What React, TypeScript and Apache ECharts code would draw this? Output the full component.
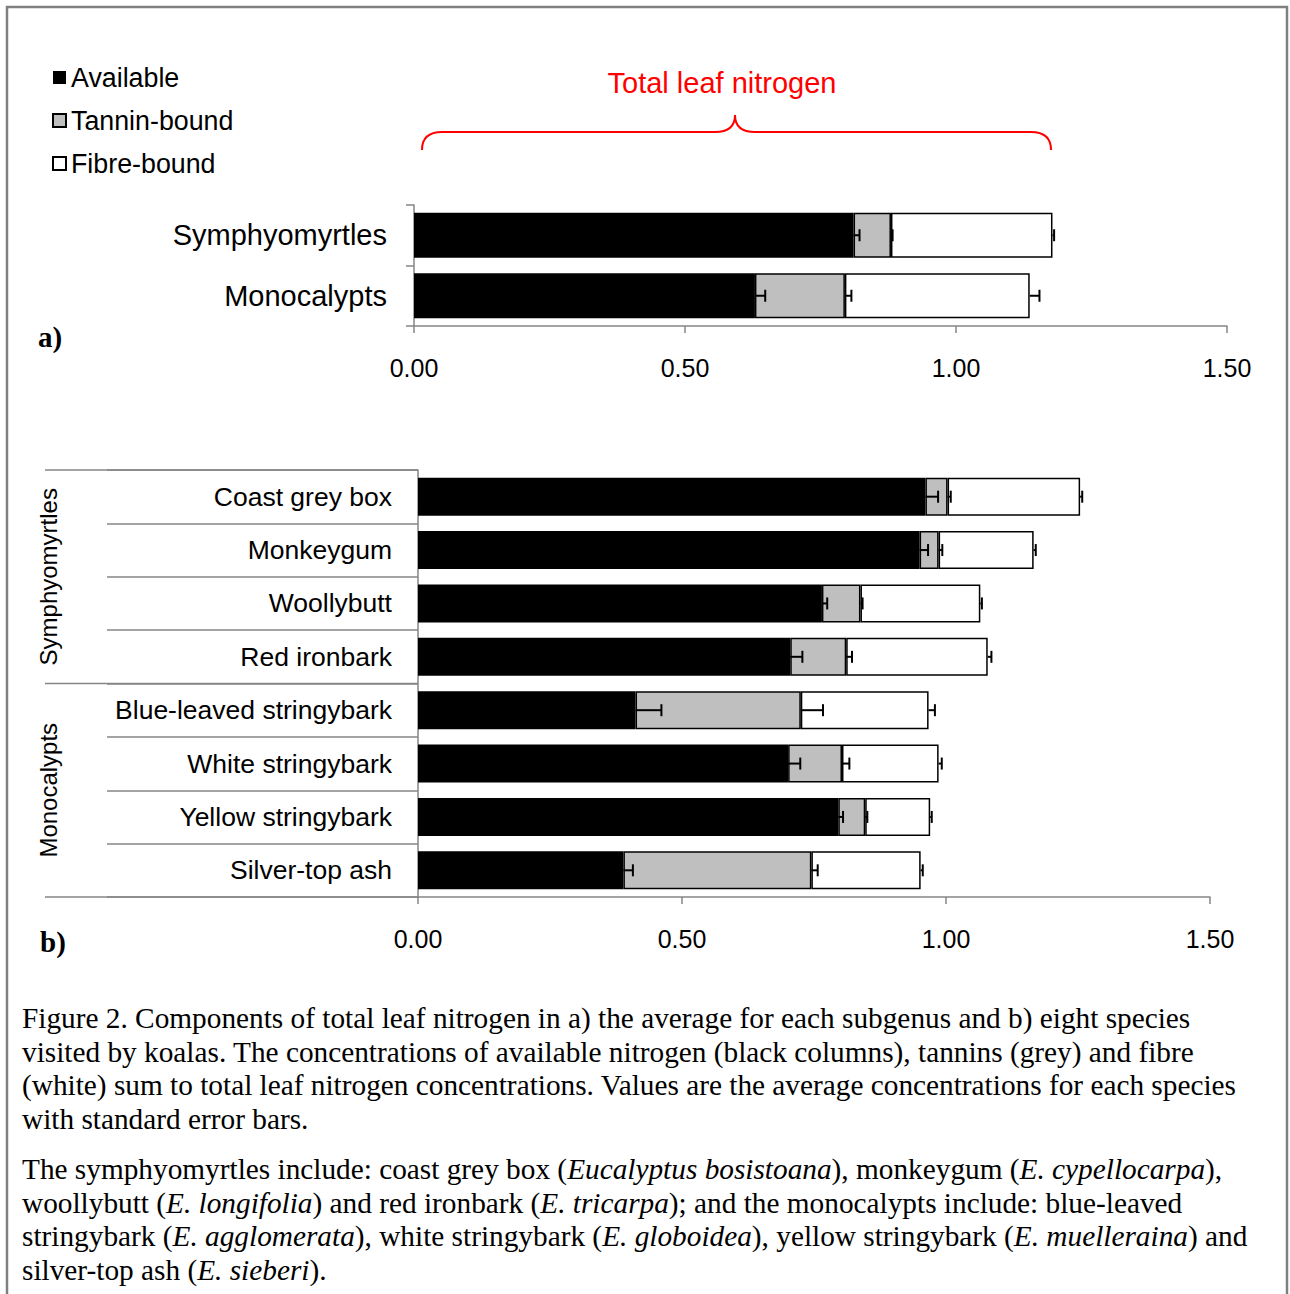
import React, { useEffect, useRef } from "react";
import * as echarts from "echarts";

// ---------- data ----------
const catsA = ["Symphyomyrtles", "Monocalypts"];
const availA = [0.811, 0.629];
const tanninA = [0.069, 0.166];
const fibreA = [0.298, 0.341];
const availErrA = [0.011, 0.019];
const tanninErrA = [0.003, 0.012];
const fibreErrA = [0.003, 0.018];

const catsB = [
  "Coast grey box",
  "Monkeygum",
  "Woollybutt",
  "Red ironbark",
  "Blue-leaved stringybark",
  "White stringybark",
  "Yellow stringybark",
  "Silver-top ash",
];
const availB = [0.961, 0.95, 0.765, 0.705, 0.412, 0.701, 0.796, 0.389];
const tanninB = [0.042, 0.036, 0.073, 0.106, 0.313, 0.102, 0.051, 0.356];
const fibreB = [0.251, 0.18, 0.227, 0.268, 0.242, 0.183, 0.123, 0.207];
const availErrB = [0.024, 0.016, 0.01, 0.023, 0.049, 0.023, 0.009, 0.018];
const tanninErrB = [0.006, 0.007, 0.004, 0.011, 0.042, 0.014, 0.004, 0.012];
const fibreErrB = [0.004, 0.004, 0.003, 0.007, 0.012, 0.006, 0.003, 0.004];

const groupsB = ["Symphyomyrtles", "Monocalypts"];
const seriesNames = ["Available", "Tannin-bound", "Fibre-bound"];
const xMin = 0;
const xMax = 1.5;
const xInterval = 0.5;

const annotation = "Total leaf nitrogen";
const captionP1 = [
  "Figure 2. Components of total leaf nitrogen in a) the average for each subgenus and b) eight species",
  "visited by koalas. The concentrations of available nitrogen (black columns), tannins (grey) and fibre",
  "(white) sum to total leaf nitrogen concentrations. Values are the average concentrations for each species",
  "with standard error bars.",
];
const captionP2 = [
  "The symphyomyrtles include: coast grey box ({i|Eucalyptus bosistoana}), monkeygum ({i|E. cypellocarpa}),",
  "woollybutt ({i|E. longifolia}) and red ironbark ({i|E. tricarpa}); and the monocalypts include: blue-leaved",
  "stringybark ({i|E. agglomerata}), white stringybark ({i|E. globoidea}), yellow stringybark ({i|E. muelleraina}) and",
  "silver-top ash ({i|E. sieberi}).",
];

// ---------- styles ----------
const SANS = "'Liberation Sans', Arial, sans-serif";
const SERIF = "'Liberation Serif', 'Times New Roman', serif";
const AXIS_GREY = "#868686";
const CAP_FS = 29.3;
const segStyles = [
  { color: "#000000", borderColor: "#000000", borderWidth: 0 },
  { color: "#bfbfbf", borderColor: "#000000", borderWidth: 1.5 },
  { color: "#ffffff", borderColor: "#000000", borderWidth: 1.5 },
];

echarts.graphic.registerShape(
  "brace",
  echarts.graphic.extendPath(
    "M422,150 Q422,132 442,132 L715,132 Q735,132 735,115 Q735,132 755,132 L1031,132 Q1051,132 1051,150",
    {}
  )
);

function errData(segs: number[][], errs: number[][]) {
  const out: number[][] = [];
  const n = segs[0].length;
  for (let i = 0; i < n; i++) {
    let cum = 0;
    for (let s = 0; s < segs.length; s++) {
      cum += segs[s][i];
      out.push([cum, i, errs[s][i]]);
    }
  }
  return out;
}

const renderErr = (params: any, api: any) => {
  const v = api.value(0);
  const i = api.value(1);
  const e = api.value(2);
  const p0 = api.coord([v, i]);
  const p1 = api.coord([v + e, i]);
  const st = { stroke: "#000000", lineWidth: 2 };
  return {
    type: "group",
    children: [
      { type: "line", shape: { x1: p0[0], y1: p0[1], x2: p1[0], y2: p1[1] }, style: st },
      { type: "line", shape: { x1: p1[0], y1: p1[1] - 6, x2: p1[0], y2: p1[1] + 6 }, style: st },
    ],
  };
};

function xAxisCfg(gridIndex: number) {
  return {
    type: "value",
    gridIndex,
    min: xMin,
    max: xMax,
    interval: xInterval,
    splitLine: { show: false },
    axisLine: { show: true, lineStyle: { color: AXIS_GREY, width: 1.5 } },
    axisTick: { show: true, length: 7, lineStyle: { color: AXIS_GREY, width: 1.5 } },
    axisLabel: {
      color: "#000",
      fontFamily: SANS,
      fontSize: 25,
      margin: 29,
      formatter: (v: number) => v.toFixed(2),
    },
  };
}

export default function App() {
  const ref = useRef<HTMLDivElement>(null);
  useEffect(() => {
    if (!ref.current) return;
    const chart = echarts.init(ref.current, null, { renderer: "svg" });
    const segsA = [availA, tanninA, fibreA];
    const segsB = [availB, tanninB, fibreB];

    const barSeries: any[] = [];
    [segsA, segsB].forEach((segs, g) => {
      segs.forEach((d, s) => {
        barSeries.push({
          name: seriesNames[s],
          type: "bar",
          xAxisIndex: g,
          yAxisIndex: g,
          stack: "tot" + g,
          data: d,
          barWidth: g === 0 ? 45 : 38,
          itemStyle: segStyles[s],
          z: 2,
        });
      });
    });

    const bandB = 427 / catsB.length;
    const groupLabelX = 48;
    const groupTop = 470;
    const caption: any[] = [];
    const richI = { i: { fontStyle: "italic", fontFamily: SERIF, fontSize: CAP_FS, fill: "#000" } };
    captionP1.forEach((t, k) => {
      caption.push({
        type: "text",
        x: 22,
        y: 1018 + k * 33.5,
        style: { text: t, fontFamily: SERIF, fontSize: CAP_FS, fill: "#000", verticalAlign: "middle", rich: richI },
      });
    });
    captionP2.forEach((t, k) => {
      caption.push({
        type: "text",
        x: 22,
        y: 1169 + k * 33.5,
        style: { text: t, fontFamily: SERIF, fontSize: CAP_FS, fill: "#000", verticalAlign: "middle", rich: richI },
      });
    });

    chart.setOption({
      animation: false,
      backgroundColor: "#ffffff",
      legend: {
        orient: "vertical",
        left: 52,
        top: 64,
        padding: 0,
        icon: "rect",
        itemWidth: 13,
        itemHeight: 13,
        itemGap: 16,
        data: seriesNames,
        textStyle: { fontFamily: SANS, fontSize: 26.8, color: "#000", lineHeight: 26 },
        selectedMode: false,
      },
      grid: [
        { left: 414, top: 205, width: 813, height: 121, containLabel: false },
        { left: 418, top: 470, width: 792, height: 427, containLabel: false },
      ],
      xAxis: [xAxisCfg(0), xAxisCfg(1)],
      yAxis: [
        {
          type: "category",
          gridIndex: 0,
          data: catsA,
          inverse: true,
          axisLine: { show: true, lineStyle: { color: AXIS_GREY, width: 1.5 } },
          axisTick: { show: true, length: 8, lineStyle: { color: AXIS_GREY, width: 1.5 } },
          axisLabel: { color: "#000", fontFamily: SANS, fontSize: 29, margin: 27 },
        },
        {
          type: "category",
          gridIndex: 1,
          data: catsB,
          inverse: true,
          axisLine: { show: true, lineStyle: { color: AXIS_GREY, width: 1.5 } },
          axisTick: { show: true, length: 311, lineStyle: { color: AXIS_GREY, width: 1.5 } },
          axisLabel: { color: "#000", fontFamily: SANS, fontSize: 26.5, margin: 26 },
        },
      ],
      series: [
        ...barSeries,
        {
          type: "custom",
          xAxisIndex: 0,
          yAxisIndex: 0,
          renderItem: renderErr,
          encode: { x: 0, y: 1 },
          data: errData([availA, tanninA, fibreA], [availErrA, tanninErrA, fibreErrA]),
          z: 5,
        },
        {
          type: "custom",
          xAxisIndex: 1,
          yAxisIndex: 1,
          renderItem: renderErr,
          encode: { x: 0, y: 1 },
          data: errData([availB, tanninB, fibreB], [availErrB, tanninErrB, fibreErrB]),
          z: 5,
        },
      ],
      graphic: [
        {
          type: "rect",
          shape: { x: 7, y: 7, width: 1280, height: 1310 },
          style: { fill: "none", stroke: "#808080", lineWidth: 2.5 },
          silent: true,
        },
        {
          type: "text",
          x: 722,
          y: 83,
          style: { text: annotation, fontFamily: SANS, fontSize: 29, fill: "#ff0000", align: "center", verticalAlign: "middle" },
        },
        {
          type: "brace",
          x: 0,
          y: 0,
          style: { fill: "none", stroke: "#ff0000", lineWidth: 2 },
        },
        {
          type: "text",
          x: 38,
          y: 337,
          style: { text: "a)", fontFamily: SERIF, fontWeight: "bold", fontSize: 29, fill: "#000", verticalAlign: "middle" },
        },
        {
          type: "text",
          x: 40,
          y: 942,
          style: { text: "b)", fontFamily: SERIF, fontWeight: "bold", fontSize: 29, fill: "#000", verticalAlign: "middle" },
        },
        // group separator lines in panel b
        ...[0, 4, 8].map((k) => ({
          type: "line",
          shape: { x1: 45, y1: groupTop + k * bandB, x2: 418, y2: groupTop + k * bandB },
          style: { stroke: AXIS_GREY, lineWidth: 1.5 },
        })),
        ...groupsB.map((g, k) => ({
          type: "text",
          x: groupLabelX,
          y: groupTop + (k * 4 + 2) * bandB,
          rotation: Math.PI / 2,
          style: { text: g, fontFamily: SANS, fontSize: 24, fill: "#000", align: "center", verticalAlign: "middle" },
        })),
        ...caption,
      ],
    });
    return () => chart.dispose();
  }, []);
  return (
    <div
      ref={ref}
      style={{ position: "absolute", left: 0, top: 0, width: 1290, height: 1294, background: "#fff" }}
    />
  );
}
